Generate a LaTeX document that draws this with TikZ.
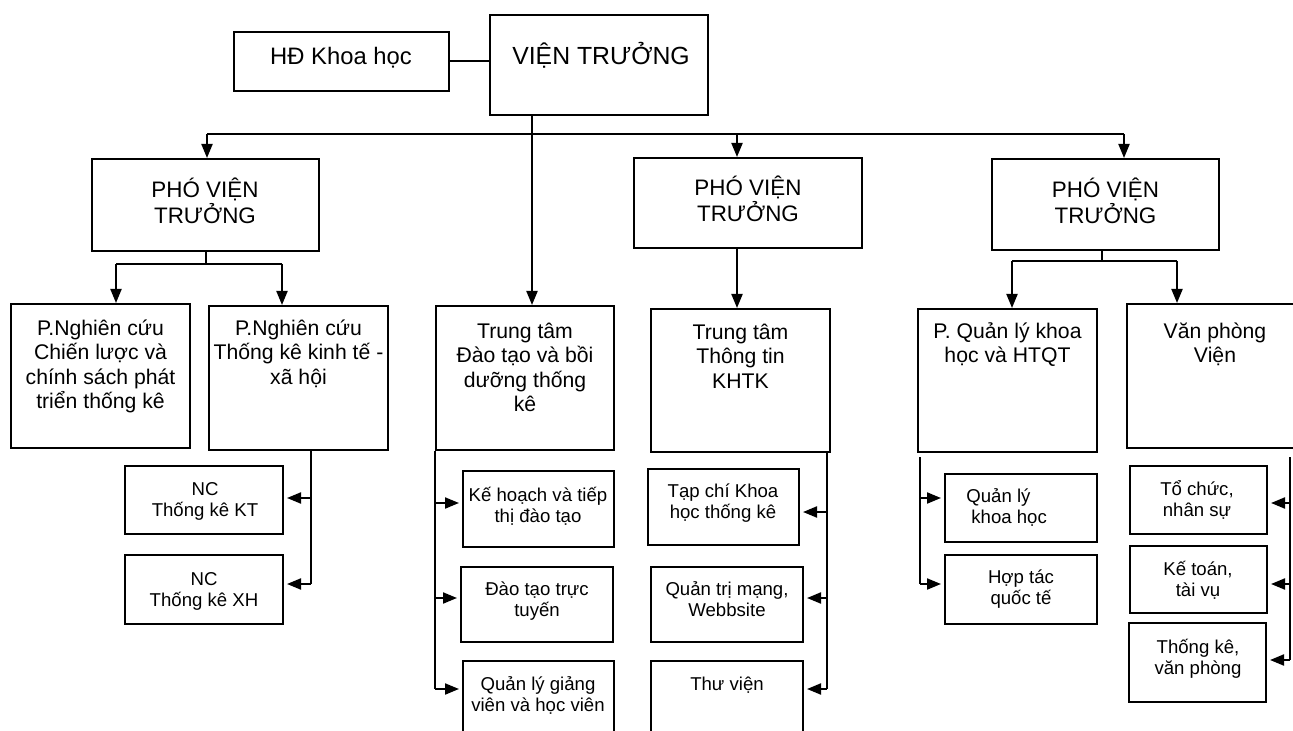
\documentclass[tikz,border=0pt]{standalone}
\usepackage{fontspec}
\setmainfont{Liberation Sans}
\usetikzlibrary{arrows.meta}
\newcommand{\firststrut}{\rule{0pt}{1em}}
\tikzset{
  box/.style={draw, line width=1pt, inner sep=0pt},
  sz/.style 2 args={minimum width=#1*0.5pt, minimum height=#2*0.5pt},
  con/.style={line width=1pt},
  arr/.style={con, -{Triangle[length=7pt,width=5.5pt]}},
  sarr/.style={arr, shorten >=1.5pt},
  tx/.style={inner sep=0pt, anchor=north, align=center},
  fA/.style={font=\fontsize{12.4}{14}\selectfont, yshift=12.4pt},
  fH/.style={font=\fontsize{11.9}{14}\selectfont, yshift=11.9pt},
  fP/.style={font=\fontsize{11.2}{13}\selectfont, yshift=11.2pt},
  fM/.style={font=\fontsize{10.6}{12.2}\selectfont, yshift=10.6pt},
  fS/.style={font=\fontsize{9.3}{10.5}\selectfont, yshift=9.3pt}
}
\begin{document}
\begin{tikzpicture}[x=0.5pt,y=-0.5pt]
\clip (0,0) rectangle (1293,731);
% boxes
\node[box, sz={215}{59}] (hd) at (341.5,61.5) {};
\node[box, sz={218}{100}] (vt) at (599,65) {};
\node[box, sz={227}{92}] (pvt1) at (205.5,205) {};
\node[box, sz={228}{90}] (pvt2) at (748,203) {};
\node[box, sz={227}{91}] (pvt3) at (1105.5,204.5) {};
\node[box, sz={179}{144}] (pnc1) at (100.5,376) {};
\node[box, sz={179}{144}] (pnc2) at (298.5,378) {};
\node[box, sz={178}{144}] (ttdt) at (525,378) {};
\node[box, sz={179}{143}] (tttt) at (740.5,380.5) {};
\node[box, sz={179}{143}] (pql) at (1007.5,380.5) {};
\node[box, sz={176}{144}] (vp) at (1215,376) {};
\node[box, sz={158}{68}] (nckt) at (204,500) {};
\node[box, sz={158}{69}] (ncxh) at (204,589.5) {};
\node[box, sz={151}{76}] (kh) at (538.5,509) {};
\node[box, sz={152}{75}] (dt) at (537,604.5) {};
\node[box, sz={151}{100}] (qlgv) at (538.5,711) {};
\node[box, sz={151}{76}] (tc) at (723.5,507) {};
\node[box, sz={152}{75}] (qt) at (727,604.5) {};
\node[box, sz={152}{100}] (tv) at (727,711) {};
\node[box, sz={152}{68}] (qlkh) at (1021,508) {};
\node[box, sz={152}{69}] (htqt) at (1021,589.5) {};
\node[box, sz={137}{68}] (tcns) at (1198.5,500) {};
\node[box, sz={137}{67}] (ktv) at (1198.5,579.5) {};
\node[box, sz={137}{79}] (tkvp) at (1197.5,662.5) {};
% texts
\node[tx, fH] (t-hd) at (341,64) {\firststrut HĐ Khoa học};
\node[tx, fA] (t-vt) at (601,64) {\firststrut VIỆN TRƯỞNG};
\node[tx, fP] (t-pvt1) at (205,197) {\firststrut PHÓ VIỆN\\TRƯỞNG};
\node[tx, fP] (t-pvt2) at (748,195) {\firststrut PHÓ VIỆN\\TRƯỞNG};
\node[tx, fP] (t-pvt3) at (1105.5,197) {\firststrut PHÓ VIỆN\\TRƯỞNG};
\node[tx, fM] (t-pnc1) at (100.5,335) {\firststrut P.Nghiên cứu\\Chiến lược và\\chính sách phát\\triển thống kê};
\node[tx, fM] (t-pnc2) at (298.5,335) {\firststrut P.Nghiên cứu\\Thống kê kinh tế -\\xã hội};
\node[tx, fM] (t-ttdt) at (525,338) {\firststrut Trung tâm\\Đào tạo và bồi\\dưỡng thống\\kê};
\node[tx, fM] (t-tttt) at (740.5,339) {\firststrut Trung tâm\\Thông tin\\KHTK};
\node[tx, fM] (t-pql) at (1007.5,338) {\firststrut P. Quản lý khoa\\học và HTQT};
\node[tx, fM] (t-vp) at (1215,338) {\firststrut Văn phòng\\Viện};
\node[tx, fS] (t-nckt) at (205,495) {\firststrut NC\\Thống kê KT};
\node[tx, fS] (t-ncxh) at (204,585) {\firststrut NC\\Thống kê XH};
\node[tx, fS] (t-kh) at (538,501) {\firststrut Kế hoạch và tiếp\\thị đào tạo};
\node[tx, fS] (t-dt) at (537,595) {\firststrut Đào tạo trực\\tuyến};
\node[tx, fS] (t-qlgv) at (538,690) {\firststrut Quản lý giảng\\viên và học viên};
\node[tx, fS] (t-tc) at (723,497) {\firststrut Tạp chí Khoa\\học thống kê};
\node[tx, fS] (t-qt) at (727,595) {\firststrut Quản trị mạng,\\Webbsite};
\node[tx, fS] (t-tv) at (727,690) {\firststrut Thư viện};
\node[tx, fS, anchor=north west, align=left] (t-qlkh) at (966,502) {\firststrut Quản lý\\\hspace{2.5pt}khoa học};
\node[tx, fS] (t-htqt) at (1021,583) {\firststrut Hợp tác\\quốc tế};
\node[tx, fS] (t-tcns) at (1197,495) {\firststrut Tổ chức,\\nhân sự};
\node[tx, fS] (t-ktv) at (1198,575) {\firststrut Kế toán,\\tài vụ};
\node[tx, fS] (t-tkvp) at (1198,653) {\firststrut Thống kê,\\văn phòng};
% connectors: top
\draw[con] (hd.east) -- (hd.east -| vt.west);
\coordinate (vb) at (532,134);
\draw[arr] (vt.south -| vb) -- (ttdt.north -| vb);
\coordinate (b1) at (207,134);
\coordinate (b2) at (737,134);
\coordinate (b3) at (1124,134);
\draw[con] (b1) -- (b3);
\draw[arr] (b1) -- (b1 |- pvt1.north);
\draw[arr] (b2) -- (b2 |- pvt2.north);
\draw[arr] (b3) -- (b3 |- pvt3.north);
% PVT1 split
\coordinate (s1) at (206,264);
\coordinate (s1l) at (116,264);
\coordinate (s1r) at (282,264);
\draw[con] (pvt1.south -| s1) -- (s1);
\draw[con] (s1l) -- (s1r);
\draw[arr] (s1l) -- (s1l |- pnc1.north);
\draw[arr] (s1r) -- (s1r |- pnc2.north);
% PVT2 down
\draw[arr] (pvt2.south -| b2) -- (b2 |- tttt.north);
% PVT3 split
\coordinate (s3) at (1102,261);
\coordinate (s3l) at (1012,261);
\coordinate (s3r) at (1177,261);
\draw[con] (pvt3.south -| s3) -- (s3);
\draw[con] (s3l) -- (s3r);
\draw[arr] (s3l) -- (s3l |- pql.north);
\draw[arr] (s3r) -- (s3r |- vp.north);
% PNC2 children
\coordinate (a1) at (311,498);
\coordinate (a2) at (311,584);
\draw[con] (pnc2.south -| a1) -- (a2);
\draw[sarr] (a1) -- (a1 -| nckt.east);
\draw[sarr] (a2) -- (a2 -| ncxh.east);
% TT Dao tao children
\coordinate (c1) at (435,503);
\coordinate (c2) at (435,598);
\coordinate (c3) at (435,689);
\draw[con] (ttdt.south -| c1) -- (c3);
\draw[sarr] (c1) -- (c1 -| kh.west);
\draw[sarr] (c2) -- (c2 -| dt.west);
\draw[sarr] (c3) -- (c3 -| qlgv.west);
% TT Thong tin children
\coordinate (d1) at (827,512);
\coordinate (d2) at (827,598);
\coordinate (d3) at (827,689);
\draw[con] (tttt.south -| d1) -- (d3);
\draw[sarr] (d1) -- (d1 -| tc.east);
\draw[sarr] (d2) -- (d2 -| qt.east);
\draw[sarr] (d3) -- (d3 -| tv.east);
% PQL children
\coordinate (e1) at (920,498);
\coordinate (e2) at (920,584);
\draw[con] ([yshift=-2pt]pql.south -| e1) -- (e2);
\draw[sarr] (e1) -- (e1 -| qlkh.west);
\draw[sarr] (e2) -- (e2 -| htqt.west);
% VP children
\coordinate (f1) at (1290,503);
\coordinate (f2) at (1290,584);
\coordinate (f3) at (1290,660);
\draw[con] ([yshift=-4pt]vp.south -| f1) -- (f3);
\draw[sarr] (f1) -- (f1 -| tcns.east);
\draw[sarr] (f2) -- (f2 -| ktv.east);
\draw[sarr] (f3) -- (f3 -| tkvp.east);
\end{tikzpicture}
\end{document}
